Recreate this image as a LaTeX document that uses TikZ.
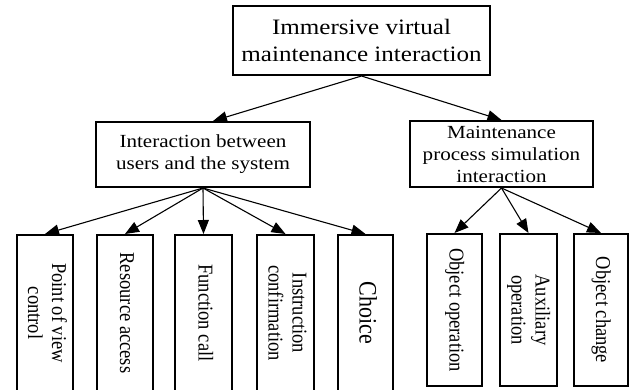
\documentclass[tikz,border=0pt]{standalone}
\usepackage{fontspec}
\usepackage{graphicx}
\setmainfont{Liberation Serif}
\newfontfamily\hfont[FakeStretch=1.14]{Liberation Serif}
\newcommand{\vtext}[1]{\scalebox{1}[1.14]{\begin{tabular}{@{}c@{}}#1\end{tabular}}}
\usetikzlibrary{arrows.meta}
\begin{document}
\begin{tikzpicture}[x=1pt,y=-1pt,
  box/.style={draw, line width=2pt, inner sep=0pt, align=center},
  vbox/.style={box, rotate=-90, minimum width=156pt, minimum height=56pt,
    font=\fontsize{18.5}{21}\selectfont},
  rbox/.style={vbox, minimum width=152pt},
  conn/.style={line width=1.1pt, -{Triangle[length=14pt,width=11pt]}}]
\useasboundingbox (0,0) rectangle (630,389);
\node[box, minimum width=257pt, minimum height=69pt,
  font=\hfont\fontsize{22}{27}\selectfont] (top) at (361.5,40.5)
  {Immersive virtual\\maintenance interaction};
\node[box, minimum width=214pt, minimum height=65pt,
  font=\hfont\fontsize{18.5}{22}\selectfont] (lm) at (203,154.5)
  {Interaction between\\users and the system};
\node[box, minimum width=183pt, minimum height=66pt,
  font=\hfont\fontsize{18.5}{22}\selectfont] (rm) at (501.5,154)
  {Maintenance\\process simulation\\interaction};
\node[vbox] (b1) at (45,313) {\vtext{Point of view\\control}};
\node[vbox] (b2) at (125,313) {\vtext{Resource access}};
\node[vbox, minimum height=57pt] (b3) at (203.5,313) {\vtext{Function call}};
\node[vbox, minimum height=57pt] (b4) at (285.5,313) {\vtext{Instruction\\confirmation}};
\node[vbox, minimum height=55pt, font=\fontsize{22}{26}\selectfont] (b5) at (365.5,313) {\vtext{Choice}};
\node[rbox, minimum height=55pt] (b6) at (454.5,310) {\vtext{Object operation}};
\node[rbox, minimum height=57pt] (b7) at (528.5,310) {\vtext{Auxiliary\\operation}};
\node[rbox, minimum height=54pt] (b8) at (601,310) {\vtext{Object change}};
\draw[conn] (top.south) -- ([xshift=10pt]lm.north);
\draw[conn] (top.south) -- (rm.north);
\foreach \b in {b1,b2,b3,b4,b5} \draw[conn] (lm.south) -- (\b.west);
\foreach \b in {b6,b7,b8} \draw[conn] (rm.south) -- (\b.west);
\end{tikzpicture}
\end{document}
